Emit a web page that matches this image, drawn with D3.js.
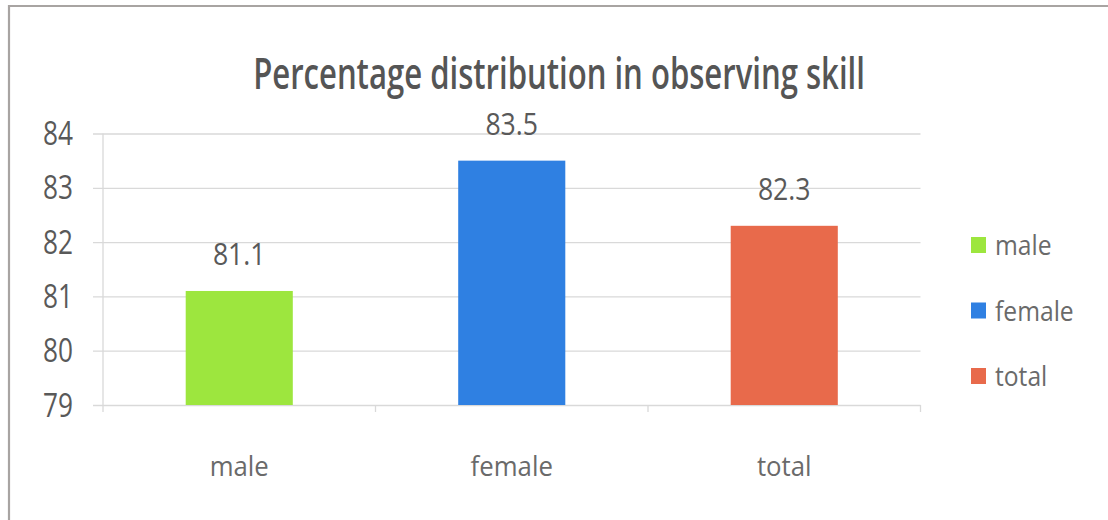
<!DOCTYPE html>
<html>
<head>
<meta charset="utf-8">
<script src="https://cdn.jsdelivr.net/npm/d3@7"></script>
<style>
  html, body { margin: 0; padding: 0; background: #fff; }
  svg { display: block; }
  text { font-family: "Open Sans", "Noto Sans", sans-serif; }
</style>
</head>
<body>
<svg id="chart" width="1108" height="520"></svg>
<script>
// Chart data
const titleText = "Percentage distribution in observing skill";
const categories = ["male", "female", "total"];
const values = [81.1, 83.5, 82.3];
const barColors = ["#9de63e", "#2f80e2", "#e86a4b"];
const yTicks = [79, 80, 81, 82, 83, 84];
const yDomain = [79, 84];

const svg = d3.select("#chart");
const W = 1108, H = 520;

// Plot area
const plot = { left: 103, right: 920.5, top: 133.5, bottom: 405 };

const x = d3.scaleBand()
  .domain(categories)
  .range([plot.left, plot.right])
  .paddingInner(0.607)
  .paddingOuter(0.3035);

const y = d3.scaleLinear()
  .domain(yDomain)
  .range([plot.bottom, plot.top]);

const color = d3.scaleOrdinal().domain(categories).range(barColors);

// Squeeze text horizontally to the narrow look of the labels
function condense(sel, factor) {
  sel.each(function () {
    const w = this.getComputedTextLength();
    d3.select(this)
      .attr("textLength", (w * factor).toFixed(1))
      .attr("lengthAdjust", "spacingAndGlyphs");
  });
}

// Background
svg.append("rect").attr("width", W).attr("height", H).attr("fill", "#fff");

// Outer frame (left and top edges)
svg.append("path")
  .attr("d", `M9,${H} L9,6 L${W},6`)
  .attr("fill", "none")
  .attr("stroke", "#a8a4a2")
  .attr("stroke-width", 2.2);

// Title, narrowed to a fixed width with a horizontal scale
const titleG = svg.append("g").attr("transform", "translate(559,89)");
const title = titleG.append("text")
  .attr("x", 0)
  .attr("y", 0)
  .attr("text-anchor", "middle")
  .attr("font-size", 44)
  .attr("font-weight", 600)
  .attr("fill", "#555555")
  .text(titleText);
const titleW = title.node().getComputedTextLength();
title.attr("transform", `scale(${(612 / titleW).toFixed(4)},1)`);

// Horizontal gridlines with left tick marks
const yAxis = d3.axisLeft(y)
  .tickValues(yTicks)
  .tickSize(-(plot.right - plot.left))
  .tickPadding(30)
  .tickFormat(d3.format("d"));

const gy = svg.append("g")
  .attr("transform", `translate(${plot.left},0)`)
  .call(yAxis);
gy.select(".domain").remove();
gy.selectAll(".tick line")
  .attr("x1", -10)
  .attr("stroke", "#d9d9d9")
  .attr("stroke-width", 1.3);
gy.selectAll(".tick text")
  .attr("x", -30)
  .attr("dy", "0.345em")
  .attr("font-size", 32)
  .attr("fill", "#595959")
  .style("font-family", "'Open Sans', 'Noto Sans', sans-serif");
condense(gy.selectAll(".tick text"), 0.82);

// Vertical axis line
svg.append("line")
  .attr("x1", plot.left).attr("x2", plot.left)
  .attr("y1", y(yDomain[1])).attr("y2", y(yDomain[0]))
  .attr("stroke", "#d9d9d9")
  .attr("stroke-width", 1.3);

// Category boundary ticks below the baseline
const boundaries = categories.map(c => x(c) - x.step() * x.paddingInner() / 2);
boundaries[0] = plot.left;
boundaries.push(plot.right);
svg.append("g").selectAll("line")
  .data(boundaries)
  .join("line")
  .attr("x1", d => d).attr("x2", d => d)
  .attr("y1", plot.bottom).attr("y2", plot.bottom + 7)
  .attr("stroke", "#d9d9d9")
  .attr("stroke-width", 1.3);

// Bars
const data = categories.map((c, i) => ({ cat: c, value: values[i] }));
svg.append("g").selectAll("rect")
  .data(data)
  .join("rect")
  .attr("x", d => x(d.cat))
  .attr("width", x.bandwidth())
  .attr("y", d => y(d.value))
  .attr("height", d => y(yDomain[0]) - y(d.value))
  .attr("fill", d => color(d.cat));

// Value labels
const vlab = svg.append("g").selectAll("text")
  .data(data)
  .join("text")
  .attr("x", d => x(d.cat) + x.bandwidth() / 2)
  .attr("y", d => y(d.value) - 26)
  .attr("text-anchor", "middle")
  .attr("font-size", 31)
  .attr("fill", "#595959")
  .text(d => d3.format(".1f")(d.value));
condense(vlab, 0.86);

// Category labels
const clab = svg.append("g").selectAll("text")
  .data(categories)
  .join("text")
  .attr("x", d => x(d) + x.bandwidth() / 2)
  .attr("y", 476)
  .attr("text-anchor", "middle")
  .attr("font-size", 28)
  .attr("fill", "#6a6a6a")
  .text(d => d);
condense(clab, 0.92);

// Legend
const legendY = d3.scalePoint().domain(categories).range([245, 376]);
const lg = svg.append("g").selectAll("g")
  .data(categories)
  .join("g")
  .attr("transform", d => `translate(971,${legendY(d)})`);
lg.append("rect")
  .attr("x", 0).attr("y", -8)
  .attr("width", 15).attr("height", 16)
  .attr("fill", d => color(d));
const ltext = lg.append("text")
  .attr("x", 24)
  .attr("y", 10)
  .attr("font-size", 28)
  .attr("fill", "#6a6a6a")
  .text(d => d);
condense(ltext, 0.88);
</script>
</body>
</html>
